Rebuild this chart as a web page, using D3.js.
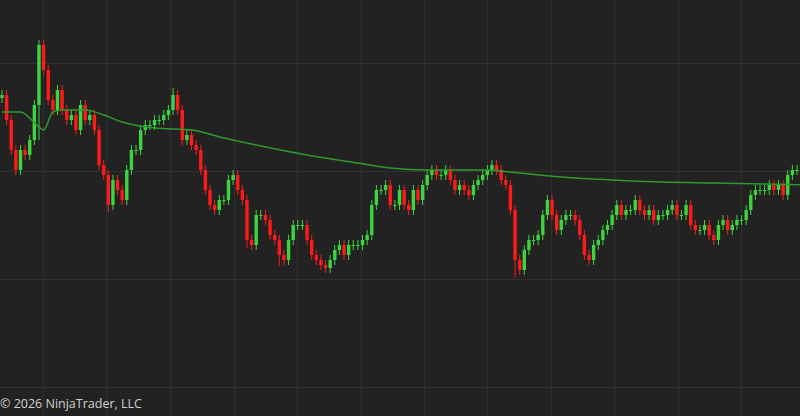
<!DOCTYPE html>
<html><head><meta charset="utf-8">
<script src="https://cdn.jsdelivr.net/npm/d3@7"></script>
<style>body{margin:0;background:#222;}svg{display:block}</style></head>
<body><svg id="c" width="800" height="416"></svg>
<script>
const closes=[321,296,266,246,266,261,276,311,371,346,316,306,326,306,296,301,286,311,296,301,286,251,241,211,236,226,216,246,266,266,286,291,291,296,296,301,306,321,306,276,281,271,266,246,226,211,206,216,216,236,241,226,216,176,171,201,201,196,181,176,161,156,176,191,191,191,176,161,156,151,148,156,166,171,161,171,171,171,176,181,211,226,226,231,211,211,226,211,206,226,216,231,241,246,241,241,246,236,226,231,226,221,231,236,241,246,251,246,236,231,206,156,146,166,176,176,181,201,216,201,186,196,201,201,196,181,161,156,171,176,186,191,201,211,201,206,206,216,206,201,206,196,201,201,206,211,201,201,211,191,186,186,191,181,176,191,196,186,191,196,196,206,221,226,226,226,231,226,231,221,241,246,246];
const firstOpen=318;
const spikeIdx=[8,8,23,37,111,53,60];
const spikeVal=[376,276,204,328,138,168,150];
const maIdx=[0,4,8,9,11,13,18,22,26,33,41,48,55,66,77,84,92,105,110,121,132,143,154,165,176];
const maVal=[304,304,289,286,304,306,306,301,294,288,286,278,271,261,253,248,246,246,244,239,236,234,233,232,231];
const gridX=[43,106,170,234,297,361,424,487,551,614,678,741];
const gridPrices=[353,245,137,29];

const svg=d3.select("#c");
const W=800,H=416,n=closes.length;
const x=d3.scaleLinear().domain([0,n-1]).range([2,797]);
const y=d3.scaleLinear().domain([0,416]).range([416,0]);
svg.append("rect").attr("width",W).attr("height",H).attr("fill","#222222");
const g=svg.append("g").attr("stroke","#303030").attr("stroke-width",1);
gridX.forEach(v=>g.append("line").attr("x1",v+.5).attr("x2",v+.5).attr("y1",0).attr("y2",H));
gridPrices.forEach(p=>g.append("line").attr("x1",0).attr("x2",W).attr("y1",Math.round(y(p))+.5).attr("y2",Math.round(y(p))+.5));

const data=closes.map((c,i)=>{const o=i?closes[i-1]:firstOpen;return{i,o,c,h:Math.max(o,c)+5,l:Math.min(o,c)-5};});
spikeIdx.forEach((k,j)=>{const d=data[k],v=spikeVal[j];if(v>d.h)d.h=v;if(v<d.l)d.l=v;});
const up="#3ed43e",dn="#ff1a1a";
const cg=svg.append("g");
data.forEach(d=>{
  const col=d.c>=d.o?up:dn, cx=x(d.i);
  cg.append("line").attr("x1",cx).attr("x2",cx).attr("y1",y(d.h)).attr("y2",y(d.l)).attr("stroke",col).attr("stroke-width",1);
  const t=y(Math.max(d.o,d.c)),b=y(Math.min(d.o,d.c));
  cg.append("rect").attr("x",cx-1.7).attr("width",3.4).attr("y",t).attr("height",Math.max(1,b-t)).attr("fill",col);
});
const line=d3.line().x(d=>x(d[0])).y(d=>y(d[1])).curve(d3.curveMonotoneX);
svg.append("path").datum(maIdx.map((k,j)=>[k,maVal[j]])).attr("d",line).attr("fill","none").attr("stroke","#2e9a2e").attr("stroke-width",1.5);
svg.append("text").attr("x",0).attr("y",408).attr("fill","#d0d0d0").attr("font-family","'Open Sans',sans-serif").attr("font-size",12.5).text("© 2026 NinjaTrader, LLC");
</script></body></html>
